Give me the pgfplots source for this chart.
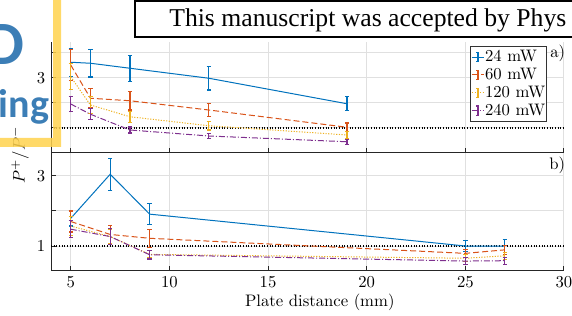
\documentclass[border=0pt]{standalone}
\usepackage{fontspec}
\usepackage{pgfplots}
\pgfplotsset{compat=1.18}
\newfontfamily\wmfont{Liberation Serif}
\newfontfamily\logofont{Carlito}
\definecolor{mblue}{RGB}{0,114,189}
\definecolor{mred}{RGB}{217,83,25}
\definecolor{myellow}{RGB}{237,177,32}
\definecolor{mpurple}{RGB}{126,47,142}
\definecolor{logoblue}{RGB}{60,126,182}
\definecolor{logoyellow}{RGB}{255,210,77}
\pgfplotsset{
 panel/.style={
  scale only axis, width=307.8pt, xmin=4, xmax=30,
  axis x line=bottom, axis y line=left,
  axis line style={-, line width=0.6pt, black!85},
  every outer x axis line/.append style={-},
  every outer y axis line/.append style={-},
  tick align=inside, major tick length=3pt, tick style={line width=0.6pt, black!85},
  xtick={5,10,...,30},
  grid=major, major grid style={line width=0.6pt, black!12},
  error bars/y dir=both, error bars/y explicit,
  error bars/error mark options={rotate=90, mark size=1.3pt, line width=0.7pt, solid},
  every axis plot/.append style={line width=0.6pt},
  tick label style={font=\normalsize},
  legend image code/.code={
   \draw[##1] (0pt,0pt) -- (7.2pt,0pt);
   \draw[##1,solid,line width=0.7pt] (3.6pt,-2.8pt) -- (3.6pt,2.8pt);
   \draw[##1,solid,line width=0.7pt] (2.7pt,-2.8pt) -- (4.5pt,-2.8pt);
   \draw[##1,solid,line width=0.7pt] (2.7pt,2.8pt) -- (4.5pt,2.8pt);
  },
 },
 sblu/.style={mblue, solid, /pgfplots/error bars/error bar style={mblue, solid, line width=0.7pt}},
 sred/.style={mred, dash pattern=on 3.6pt off 1.8pt, /pgfplots/error bars/error bar style={mred, solid, line width=0.7pt}},
 syel/.style={myellow, dash pattern=on 0.7pt off 0.9pt, /pgfplots/error bars/error bar style={myellow, solid, line width=0.7pt}},
 spur/.style={mpurple, dash pattern=on 3.6pt off 1.2pt on 0.6pt off 1.2pt, /pgfplots/error bars/error bar style={mpurple, solid, line width=0.7pt}},
}
\begin{document}
\begin{tikzpicture}
\path[use as bounding box] (0,0) rectangle (343.2pt,189.6pt);
% ---------- panel a ----------
\begin{axis}[panel, at={(30.6pt,97.8pt)}, anchor=south west, height=66.6pt,
  ymin=0, ymax=4.44, ytick={1,2,3,4}, yticklabels={,,3,}, xticklabels={},
  legend cell align=left,
  legend style={at={(axis description cs:0.967,0.968)}, anchor=north east,
   draw=black!80, line width=0.5pt, fill=white, font=\normalsize,
   inner xsep=0.5pt, inner ysep=0.5pt, row sep=-1.6pt, nodes={inner xsep=0.35pt}}]
\addplot[black, densely dotted, line width=0.9pt, forget plot, error bars/y dir=none] coordinates {(4,1) (30,1)};
\addplot[sblu] table[x=x, y=y, y error=e] {
x y e
5 3.63 0.56
6 3.59 0.55
8 3.39 0.52
12 2.99 0.47
19 1.97 0.28
};
\addplot[sred] table[x=x, y=y, y error=e] {
x y e
5 3.52 0.62
6 2.19 0.38
8 2.09 0.37
12 1.72 0.27
19 1.03 0.17
};
\addplot[syel] table[x=x, y=y, y error=e] {
x y e
5 3.05 0.52
6 1.92 0.33
8 1.45 0.22
12 1.09 0.17
19 0.72 0.14
};
\addplot[spur] table[x=x, y=y, y error=e] {
x y e
5 1.96 0.30
6 1.55 0.22
8 0.92 0.12
12 0.68 0.10
19 0.45 0.10
};
\legend{24 mW, 60 mW, 120 mW, 240 mW}
\node[anchor=east, inner sep=0pt, font=\normalsize] at (axis description cs:1.003,0.9) {a)};
\end{axis}
% ---------- panel b ----------
\begin{axis}[panel, at={(30.6pt,27pt)}, anchor=south west, height=70.8pt,
  ymin=0.286, ymax=3.657, ytick={1,2,3}, yticklabels={1,,3},
  xlabel={Plate distance (mm)},
  xlabel style={at={(axis description cs:0.524,-0.263)}, anchor=center, font=\normalsize},
  ylabel={$P^+/P^-$},
  ylabel style={at={(axis description cs:-0.0604,0.983)}, anchor=center, font=\normalsize}]
\addplot[black, densely dotted, line width=0.9pt, forget plot, error bars/y dir=none] coordinates {(4,1) (30,1)};
\addplot[sblu] table[x=x, y=y, y error=e] {
x y e
5 1.79 0.22
7 3.05 0.46
9 1.91 0.30
25 1.00 0.16
27 1.00 0.18
};
\addplot[sred] table[x=x, y=y, y error=e] {
x y e
5 1.70 0.30
7 1.33 0.26
9 1.22 0.26
25 0.79 0.12
27 0.89 0.13
};
\addplot[syel] table[x=x, y=y, y error=e] {
x y e
5 1.57 0.28
7 1.27 0.20
9 0.76 0.10
25 0.65 0.10
27 0.72 0.10
};
\addplot[spur] table[x=x, y=y, y error=e] {
x y e
5 1.48 0.24
7 1.27 0.22
9 0.75 0.12
25 0.57 0.10
27 0.58 0.10
};
\node[anchor=east, inner sep=0pt, font=\normalsize] at (axis description cs:1.003,0.898) {b)};
\end{axis}
% ---------- overlays ----------
\fill[logoyellow, opacity=0.85] (0pt,101.4pt) -- (36.6pt,101.4pt) -- (36.6pt,189.6pt) -- (31.8pt,189.6pt) -- (31.8pt,106.8pt) -- (0pt,106.8pt) -- cycle;
\node[anchor=base east, inner sep=0pt, text=logoblue, font=\logofont\bfseries\fontsize{37}{40}\selectfont] at (15pt,150.6pt) {D};
\node[anchor=base west, inner sep=0pt, text=logoblue, font=\logofont\bfseries\fontsize{24}{28}\selectfont] at (-0.8pt,118.8pt) {ing};
\draw[black, line width=0.8pt, fill=white] (81pt,167.4pt) rectangle (360pt,189pt);
\node[anchor=base west, inner sep=0pt, font=\wmfont\fontsize{15.4}{18}\selectfont] at (101.4pt,173.4pt) {This manuscript was accepted by Phys};
\end{tikzpicture}
\end{document}
